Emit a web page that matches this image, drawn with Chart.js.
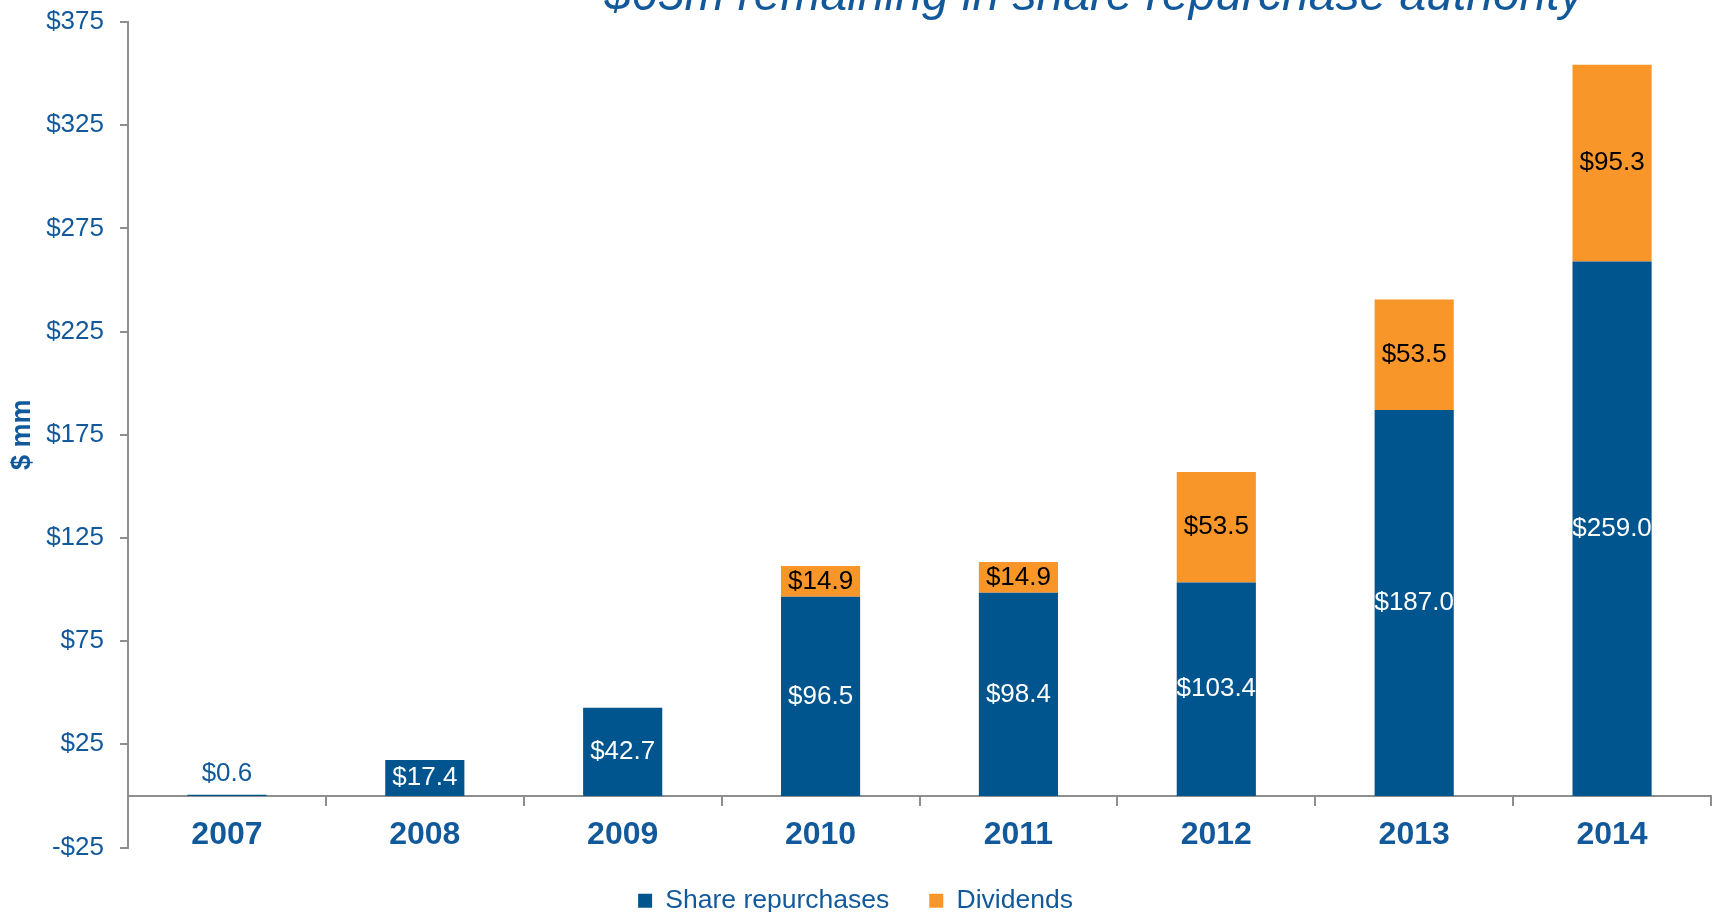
<!DOCTYPE html>
<html>
<head>
<meta charset="utf-8">
<script src="https://cdn.jsdelivr.net/npm/chart.js@4.4.1/dist/chart.umd.min.js"></script>
<style>
  html, body { margin: 0; padding: 0; background: #ffffff; }
  .chart-wrap { position: relative; width: 1717px; height: 912px; }
</style>
</head>
<body>
<div class="chart-wrap"><canvas id="payout_chart"></canvas></div>
<script>
var years = ['2007', '2008', '2009', '2010', '2011', '2012', '2013', '2014'];
var repurchases = [0.6, 17.4, 42.7, 96.5, 98.4, 103.4, 187.0, 259.0];
var dividends = [null, null, null, 14.9, 14.9, 53.5, 53.5, 95.3];
var yTicks = [-25, 25, 75, 125, 175, 225, 275, 325, 375];
var headline = '$65m remaining in share repurchase authority';

var BLUE = '#00558F';
var ORANGE = '#F8962A';
var TEXT_BLUE = '#12599B';
var AXIS_GREY = '#8E8E8E';
var FONT = 'Arial, "Liberation Sans", sans-serif';

Chart.defaults.font.family = FONT;

function money(v) {
    return (v < 0 ? '-$' : '$') + Math.abs(v);
}

// headline sits above the plot, partly running off the top edge
var headlinePlugin = {
    id: 'headline',
    afterDraw: function(chart) {
        var ctx = chart.ctx;
        ctx.save();
        ctx.font = 'italic 48px ' + FONT;
        ctx.fillStyle = TEXT_BLUE;
        ctx.textAlign = 'center';
        ctx.textBaseline = 'alphabetic';
        ctx.fillText(headline, 1094, 10);
        ctx.restore();
    }
};

// value labels in the middle of each segment
var barValuePlugin = {
    id: 'barValues',
    afterDatasetsDraw: function(chart) {
        var ctx = chart.ctx;
        ctx.save();
        ctx.font = '26px ' + FONT;
        ctx.textAlign = 'center';
        ctx.textBaseline = 'middle';
        chart.data.datasets.forEach(function(ds, di) {
            var meta = chart.getDatasetMeta(di);
            meta.data.forEach(function(bar, i) {
                var v = ds.data[i];
                if (v === null || v === undefined) return;
                var h = Math.abs(bar.base - bar.y);
                var txt = '$' + v.toFixed(1);
                if (h < 20) {
                    ctx.fillStyle = TEXT_BLUE;
                    ctx.fillText(txt, bar.x, bar.y - 21);
                } else {
                    ctx.fillStyle = di === 0 ? '#FFFFFF' : '#000000';
                    ctx.fillText(txt, bar.x, (bar.y + bar.base) / 2);
                }
            });
        });
        ctx.restore();
    }
};

new Chart(document.getElementById('payout_chart'), {
    type: 'bar',
    data: {
        labels: years,
        datasets: [
            {
                label: 'Share repurchases',
                data: repurchases,
                backgroundColor: BLUE,
                barPercentage: 0.4,
                categoryPercentage: 1.0
            },
            {
                label: 'Dividends',
                data: dividends,
                backgroundColor: ORANGE,
                barPercentage: 0.4,
                categoryPercentage: 1.0
            }
        ]
    },
    options: {
        responsive: true,
        maintainAspectRatio: false,
        animation: false,
        devicePixelRatio: 1,
        layout: {
            padding: { top: 22, right: 6, left: 0, bottom: -12 }
        },
        plugins: {
            legend: {
                position: 'bottom',
                labels: {
                    color: TEXT_BLUE,
                    font: { size: 26.5 },
                    boxWidth: 14,
                    boxHeight: 14,
                    padding: 40
                }
            },
            tooltip: { enabled: false }
        },
        scales: {
            x: {
                stacked: true,
                position: { y: 0 },
                grid: {
                    offset: true,
                    drawOnChartArea: false,
                    tickLength: 9,
                    color: AXIS_GREY,
                    lineWidth: 2
                },
                border: { display: true, color: AXIS_GREY, width: 2 },
                ticks: {
                    color: TEXT_BLUE,
                    padding: 11,
                    font: { size: 32, weight: 'bold' }
                }
            },
            y: {
                stacked: true,
                min: -25,
                max: 375,
                afterBuildTicks: function(scale) {
                    scale.ticks = yTicks.map(function(v) { return { value: v }; });
                },
                afterFit: function(scale) {
                    scale.width = 128;
                },
                grid: {
                    drawOnChartArea: false,
                    tickLength: 8,
                    color: AXIS_GREY,
                    lineWidth: 2
                },
                border: { display: true, color: AXIS_GREY, width: 2 },
                ticks: {
                    color: TEXT_BLUE,
                    padding: 16,
                    // small line height keeps the top label from pushing the plot down
                    font: { size: 26, lineHeight: 0.4 },
                    callback: function(v) { return money(v); }
                },
                title: {
                    display: true,
                    text: '$ mm',
                    color: TEXT_BLUE,
                    font: { size: 27, weight: 'bold' },
                    padding: { top: 6, bottom: 4 }
                }
            }
        }
    },
    plugins: [headlinePlugin, barValuePlugin]
});
</script>
</body>
</html>
